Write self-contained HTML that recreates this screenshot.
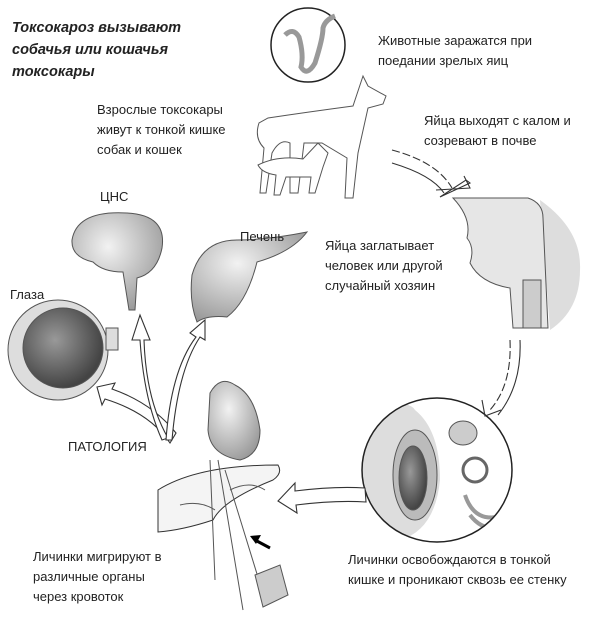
<!DOCTYPE html>
<html><head><meta charset="utf-8"><style>
html,body{margin:0;padding:0;background:#fff;}
body{width:600px;height:628px;position:relative;overflow:hidden;font-family:"Liberation Sans","DejaVu Sans",sans-serif;}
.t{position:absolute;font-size:13px;line-height:20px;color:#222;white-space:nowrap;}
svg{position:absolute;left:0;top:0;}
</style></head><body>
<svg width="600" height="628" viewBox="0 0 600 628">
<defs>
<radialGradient id="g1" cx="40%" cy="35%" r="70%"><stop offset="0" stop-color="#f2f2f2"/><stop offset="1" stop-color="#9a9a9a"/></radialGradient>
<radialGradient id="g2" cx="40%" cy="40%" r="60%"><stop offset="0" stop-color="#999"/><stop offset="1" stop-color="#444"/></radialGradient>
<clipPath id="cc"><ellipse cx="437" cy="470" rx="75" ry="72"/></clipPath>
</defs>
<g stroke="#555" stroke-width="1">
<!-- worm circle -->
<circle cx="308" cy="45" r="37" fill="#fff" stroke="#222" stroke-width="1.5"/>
<path d="M285 35 q8 -8 14 2 q5 18 2 30 q6 10 14 -4 q8 -25 8 -35 q2 -8 12 -12" fill="none" stroke="#999" stroke-width="5"/>
<!-- dog -->
<path d="M268 118 q40 -6 85 -12 l10 -30 l5 10 l18 10 l-3 8 l-15 4 l-10 45 l-5 45 l-8 0 l2 -40 l-25 -15 l-18 0 l-6 50 l-8 0 l0 -50 q-10 -5 -18 10 l-6 40 l-6 0 l4 -45 q-10 -10 -5 -25 z" fill="#fff"/>
<!-- cat -->
<path d="M258 165 q20 -10 45 -6 l15 -16 l10 10 l-5 14 l-8 26 l-6 0 l2 -16 l-25 0 l-6 18 l-6 0 l2 -20 q-14 -2 -18 -10z" fill="#fff"/>
<!-- head cross section -->
<path d="M540 200 q42 30 40 70 q0 40 -30 60 z" fill="#ddd" stroke="none"/>
<path d="M453 198 h75 q15 5 15 20 l5 110 l-35 0 l-3 -40 q-30 -5 -40 -25 q5 -15 -3 -25 q5 -20 -14 -40z" fill="#e6e6e6"/>
<rect x="523" y="280" width="18" height="48" fill="#ccc"/>
<!-- intestine circle -->
<g clip-path="url(#cc)">
<rect x="360" y="395" width="160" height="150" fill="#fff" stroke="none"/>
<path d="M360 400 q50 0 55 10 q25 20 25 70 q-5 50 -40 60 l-40 0z" fill="#ddd" stroke="none"/>
<ellipse cx="415" cy="475" rx="22" ry="45" fill="#bbb"/>
<ellipse cx="413" cy="478" rx="14" ry="32" fill="url(#g2)"/>
<ellipse cx="463" cy="433" rx="14" ry="12" fill="#ccc"/>
<circle cx="475" cy="470" r="12" fill="#fff" stroke="#666" stroke-width="3"/>
<path d="M465 495 q10 30 40 20 M470 515 q15 20 40 10" fill="none" stroke="#999" stroke-width="4"/>
</g>
<ellipse cx="437" cy="470" rx="75" ry="72" fill="none" stroke="#222" stroke-width="1.5"/>
<!-- brain -->
<path d="M72 240 q5 -30 55 -27 q40 2 35 35 q-5 25 -25 30 l-2 32 l-6 0 l-6 -38 q-20 0 -30 -10 q-22 -5 -21 -22z" fill="url(#g1)"/>
<!-- liver -->
<path d="M192 275 q10 -35 45 -35 q30 0 70 -8 q-15 20 -50 30 q-10 40 -30 55 q-20 -2 -30 5 q-8 -20 -5 -47z" fill="url(#g1)"/>
<!-- eye -->
<circle cx="58" cy="350" r="50" fill="#ddd"/>
<circle cx="63" cy="348" r="40" fill="url(#g2)"/>
<rect x="106" y="328" width="12" height="22" fill="#ddd"/>
<!-- heart -->
<path d="M210 393 q10 -18 25 -8 q20 10 25 45 q0 25 -20 30 q-30 -5 -32 -30z" fill="url(#g1)"/>
<!-- lower liver -->
<path d="M158 490 q40 -25 120 -25 q5 8 -5 15 q-50 20 -60 40 q-30 10 -55 12z" fill="#f4f4f4" stroke="#333"/>
<path d="M210 460 l5 120 M218 460 l25 150 M225 470 l40 130 M180 505 q20 -5 35 5 M230 490 q20 -10 35 0" fill="none" stroke="#555"/>
<path d="M255 575 l25 -10 l8 30 l-25 12z" fill="#ccc"/>
</g>
<!-- arrows -->
<g fill="#fff" stroke="#333" stroke-width="1.1">
<path d="M392 150 q45 12 60 38" fill="none" stroke-dasharray="8 3"/>
<path d="M392 163 q40 12 52 30" fill="none"/>
<path d="M440 197 l30 -14 l-4 -3 z" fill="none"/>
<path d="M436 190 l34 -2 l-6 -12" fill="none"/>
<path d="M510 340 q2 45 -20 70" fill="none" stroke-dasharray="8 3"/>
<path d="M520 340 q2 45 -22 75" fill="none"/>
<path d="M482 400 l3 16 l16 -6" fill="none"/>
<path d="M365 488 q-30 -2 -70 3 l0 -8 l-17 18 l19 12 l-1 -8 q40 -5 70 -3z"/>
<path d="M170 443 q-20 -30 -65 -44 l-3 6 l-5 -18 l18 -4 l-3 6 q40 14 64 44z"/>
<path d="M162 440 q-18 -40 -22 -100 l-8 0 l8 -25 l10 25 l-6 0 q2 60 24 98z"/>
<path d="M166 440 q5 -70 30 -103 l-6 -4 l15 -13 l0 20 l-5 -3 q-22 33 -28 103z"/>
</g>
<path d="M270 548 l-15 -8" stroke="#000" stroke-width="3"/>
<path d="M250 536 l11 -1 l-5 9z" fill="#000"/>
</svg>
<div class="t" style="left:12px;top:17px;font-weight:bold;font-style:italic;font-size:14.5px;line-height:22px;">Токсокароз вызывают<br>собачья или кошачья<br>токсокары</div>
<div class="t" style="left:378px;top:31px;">Животные заражатся при<br>поедании зрелых яиц</div>
<div class="t" style="left:97px;top:100px;">Взрослые токсокары<br>живут к тонкой кишке<br>собак и кошек</div>
<div class="t" style="left:424px;top:111px;">Яйца выходят с калом и<br>созревают в почве</div>
<div class="t" style="left:100px;top:187px;">ЦНС</div>
<div class="t" style="left:240px;top:227px;">Печень</div>
<div class="t" style="left:10px;top:285px;">Глаза</div>
<div class="t" style="left:325px;top:236px;">Яйца заглатывает<br>человек или другой<br>случайный хозяин</div>
<div class="t" style="left:68px;top:437px;">ПАТОЛОГИЯ</div>
<div class="t" style="left:33px;top:547px;">Личинки мигрируют в<br>различные органы<br>через кровоток</div>
<div class="t" style="left:348px;top:550px;">Личинки освобождаются в тонкой<br>кишке и проникают сквозь ее стенку</div>
</body></html>
